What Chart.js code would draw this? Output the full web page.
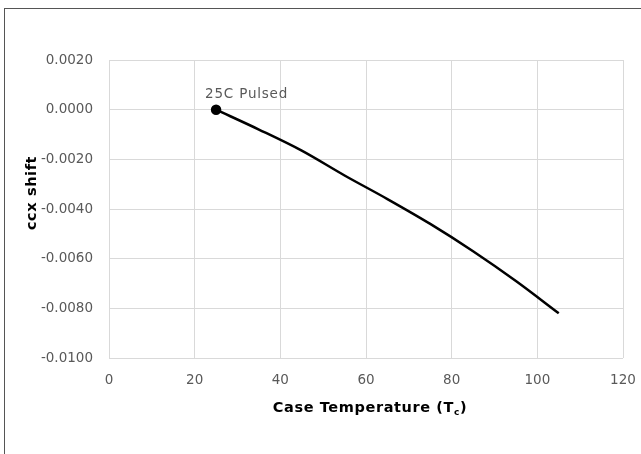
<!DOCTYPE html>
<html>
<head>
<meta charset="utf-8">
<script src="https://cdn.jsdelivr.net/npm/chart.js@4/dist/chart.umd.min.js"></script>
<style>
  body { margin: 0; background: #fff; }
  #frame { position: absolute; left: 4px; top: 8px; width: 700px; height: 500px; border: 1px solid #555; }
  #chart { position: absolute; left: 0; top: 0; }
</style>
</head>
<body>
<div id="frame"></div>
<canvas id="chart" width="641" height="454"></canvas>
<script>
const temps = [25, 35, 45, 55, 65, 75, 85, 95, 105];
const shifts = [0, -0.0008, -0.00165, -0.00265, -0.0036, -0.0046, -0.0057, -0.0069, -0.0082];
const xTicks = [0, 20, 40, 60, 80, 100, 120];
const yTicks = [-0.01, -0.008, -0.006, -0.004, -0.002, 0, 0.002];
const pointLabel = '25C Pulsed';

const tickFont = { family: 'DejaVu Sans', size: 13.5 };
const tickColor = '#595959';
const titleFont = 'bold 14.5px "DejaVu Sans"';

// titles + the point label, drawn by hand (subscript and offsets)
const extras = {
  id: 'extras',
  afterDraw(chart) {
    const ctx = chart.ctx;
    const xs = chart.scales.x, ys = chart.scales.y;
    ctx.save();

    // point label
    ctx.fillStyle = tickColor;
    ctx.font = '13.5px "DejaVu Sans"';
    ctx.letterSpacing = '0.8px';
    ctx.textAlign = 'left';
    ctx.textBaseline = 'alphabetic';
    ctx.fillText(pointLabel, xs.getPixelForValue(temps[0]) - 11, ys.getPixelForValue(shifts[0]) - 12);

    // x title with subscript
    ctx.fillStyle = '#000';
    ctx.letterSpacing = '0.6px';
    const main = 'Case Temperature (T';
    ctx.font = titleFont;
    const w1 = ctx.measureText(main).width;
    ctx.font = 'bold 9px "DejaVu Sans"';
    const w2 = ctx.measureText('c').width;
    ctx.font = titleFont;
    const w3 = ctx.measureText(')').width;
    let x = 370 - (w1 + w2 + w3) / 2;
    const base = 412;
    ctx.fillText(main, x, base);
    x += w1;
    ctx.font = 'bold 9px "DejaVu Sans"';
    ctx.fillText('c', x, base + 3);
    x += w2;
    ctx.font = titleFont;
    ctx.fillText(')', x, base);

    // y title
    ctx.translate(32, 193);
    ctx.rotate(-Math.PI / 2);
    ctx.textAlign = 'center';
    ctx.textBaseline = 'middle';
    ctx.fillText('ccx shift', 0, 0);
    ctx.restore();
  }
};

new Chart(document.getElementById('chart'), {
  type: 'scatter',
  data: {
    datasets: [{
      data: temps.map((t, i) => ({ x: t, y: shifts[i] })),
      showLine: true,
      borderColor: '#000',
      backgroundColor: '#000',
      borderWidth: 2.5,
      pointRadius: temps.map((t, i) => i === 0 ? 4 : 0),
      pointHoverRadius: 0,
      cubicInterpolationMode: 'monotone'
    }]
  },
  options: {
    responsive: false,
    animation: false,
    devicePixelRatio: 1,
    layout: { padding: { left: 0, top: 60, right: 18, bottom: 0 } },
    plugins: { legend: { display: false }, tooltip: { enabled: false } },
    scales: {
      x: {
        type: 'linear',
        min: xTicks[0],
        max: xTicks[xTicks.length - 1],
        afterBuildTicks: s => { s.ticks = xTicks.map(v => ({ value: v })); },
        afterFit: s => { s.height = 96; s.paddingLeft = 0; s.paddingRight = 0; },
        grid: { color: '#d9d9d9', drawTicks: false },
        border: { display: false },
        ticks: { font: tickFont, color: tickColor, padding: 14, maxRotation: 0 }
      },
      y: {
        type: 'linear',
        min: yTicks[0],
        max: yTicks[yTicks.length - 1],
        afterBuildTicks: s => { s.ticks = yTicks.map(v => ({ value: v })); },
        afterFit: s => { s.width = 109; s.paddingTop = 0; s.paddingBottom = 0; },
        grid: { color: '#d9d9d9', drawTicks: false },
        border: { display: false },
        ticks: {
          font: tickFont,
          color: tickColor,
          padding: 16,
          callback: v => (Math.abs(v) < 1e-9 ? 0 : v).toFixed(4)
        }
      }
    }
  },
  plugins: [extras]
});
</script>
</body>
</html>
